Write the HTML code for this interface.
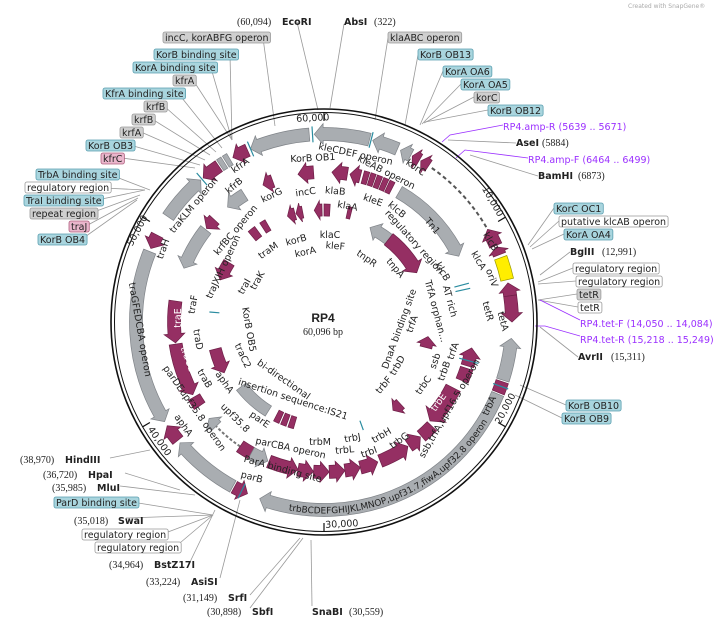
<!DOCTYPE html>
<html><head><meta charset="utf-8"><style>
html,body{margin:0;padding:0;background:#fff;width:717px;height:619px;overflow:hidden}
svg{display:block}
text{font-family:"DejaVu Sans","Liberation Sans",sans-serif;font-size:9.5px;fill:#222}
.b{font-weight:bold}
.p{fill:#9b30ff}
.s{font-family:"Liberation Serif",serif;font-size:10px}
.w{fill:#fff}
</style></head><body>
<svg id="m" width="717" height="619" viewBox="0 0 717 619" xmlns="http://www.w3.org/2000/svg">
<defs><path id="trbarc" d=""/></defs>
<g id="lines" stroke="#999" stroke-width="0.8" fill="none">
<path d="M297 22 L318 110"/><path d="M344 24 L330 108"/>
<path d="M263 38 L275 126"/><path d="M230 55 L232 140"/><path d="M211 68 L232 140"/>
<path d="M193 80 L232 140"/><path d="M178 93 L222 148"/><path d="M164 106 L216 152"/>
<path d="M152 119 L210 155"/><path d="M141 132 L205 160"/><path d="M130 145 L200 165"/>
<path d="M122 158 L195 168"/>
<path d="M111 175 L150 190"/><path d="M103 188 L145 190"/><path d="M97 200 L145 190"/>
<path d="M91 213 L140 195"/><path d="M86 226 L138 198"/><path d="M82 239 L137 200"/>
<path d="M388 38 L375 120"/><path d="M418 55 L405 125"/><path d="M443 71 L420 125"/>
<path d="M461 84 L422 124"/><path d="M474 97 L424 123"/><path d="M488 110 L425 122"/>
<path d="M516 143 L448 140"/><path d="M538 176 L470 155"/>
<path d="M554 208 L528 245"/><path d="M559 221 L530 247"/><path d="M564 234 L532 249"/>
<path d="M570 252 L540 275"/><path d="M573 268 L538 282"/><path d="M576 281 L538 284"/>
<path d="M577 294 L538 300"/><path d="M578 307 L538 300"/><path d="M578 357 L540 327"/>
<path d="M566 405 L520 385"/><path d="M562 418 L515 395"/>
<path d="M110 458 L150 450"/><path d="M125 473 L180 490"/><path d="M120 486 L195 495"/>
<path d="M132 502 L213 515"/><path d="M126 518 L213 515"/><path d="M160 535 L213 515"/>
<path d="M174 548 L213 515"/><path d="M190 562 L215 510"/><path d="M220 578 L240 500"/>
<path d="M250 595 L300 538"/><path d="M250 608 L303 538"/><path d="M312 606 L311 540"/>
</g>
<g stroke="#9b30ff" stroke-width="0.8" fill="none">
<path d="M503 125 L450 135 L442 142"/><path d="M528 158 L465 150 L456 158"/>
<path d="M580 320 L540 300"/><path d="M580 336 L545 326 L535 326"/>
</g>
<circle cx="324" cy="322" r="213" fill="none" stroke="#111" stroke-width="1.6"/>
<circle cx="324" cy="322" r="209.5" fill="none" stroke="#111" stroke-width="1"/>
<g id="feat"></g>
<text x="237" y="25" class="s">(60,094)</text><text x="282" y="25" class="b">EcoRI</text>
<text x="344" y="25" class="b">AbsI</text><text x="374" y="25" class="s">(322)</text>
<g id="boxes"></g>
<text x="503" y="130" class="p">RP4.amp-R  (5639 .. 5671)</text>
<text x="516" y="146" class="b">AseI</text><text x="542" y="146" class="s">(5884)</text>
<text x="528" y="163" class="p">RP4.amp-F  (6464 .. 6499)</text>
<text x="538" y="179" class="b">BamHI</text><text x="578" y="179" class="s">(6873)</text>
<text x="570" y="255" class="b">BglII</text><text x="602" y="255" class="s">(12,991)</text>
<text x="580" y="327" class="p">RP4.tet-F  (14,050 .. 14,084)</text>
<text x="580" y="343" class="p">RP4.tet-R  (15,218 .. 15,249)</text>
<text x="578" y="360" class="b">AvrII</text><text x="611" y="360" class="s">(15,311)</text>
<text x="20" y="463" class="s">(38,970)</text><text x="65" y="463" class="b">HindIII</text>
<text x="43" y="478" class="s">(36,720)</text><text x="88" y="478" class="b">HpaI</text>
<text x="52" y="491" class="s">(35,985)</text><text x="97" y="491" class="b">MluI</text>
<text x="74" y="524" class="s">(35,018)</text><text x="118" y="524" class="b">SwaI</text>
<text x="109" y="568" class="s">(34,964)</text><text x="154" y="568" class="b">BstZ17I</text>
<text x="146" y="585" class="s">(33,224)</text><text x="191" y="585" class="b">AsiSI</text>
<text x="183" y="601" class="s">(31,149)</text><text x="228" y="601" class="b">SrfI</text>
<text x="207" y="615" class="s">(30,898)</text><text x="252" y="615" class="b">SbfI</text>
<text x="312" y="615" class="b">SnaBI</text><text x="349" y="615" class="s">(30,559)</text>
<text x="628" y="8" style="font-size:6px;fill:#aaa">Created with SnapGene®</text>
<text x="323" y="322" text-anchor="middle" class="b" style="font-size:12px;font-family:'Liberation Sans',sans-serif">RP4</text>
<text x="323" y="335" text-anchor="middle" class="s">60,096 bp</text>
<text style="font-size:9px" text-anchor="middle"><textPath href="#trbarc" startOffset="50%">trbBCDEFGHIJKLMNOP,upf31.7,fiwA,upf32.8 operon</textPath></text>
<g text-anchor="middle" style="font-size:9px">
<text transform="translate(313,121) rotate(-3)">60,000</text>
<text transform="translate(490,203) rotate(60)">10,000</text>
<text transform="translate(508,410) rotate(-62)">20,000</text>
<text transform="translate(342,527) rotate(-3)">30,000</text>
<text transform="translate(157,443) rotate(55)">40,000</text>
<text transform="translate(140,232) rotate(-62)">50,000</text>
<text transform="translate(355,157) rotate(12)">kleCDEF operon</text>
<text transform="translate(385,175) rotate(27)">kleAB operon</text>
<text transform="translate(414,170) rotate(35)">korC</text>
<text transform="translate(313,161) rotate(-3)">KorB OB1</text>
<text transform="translate(306,195) rotate(-8)">incC</text>
<text transform="translate(335,194) rotate(5)">klaB</text>
<text transform="translate(347,209) rotate(10)">klaA</text>
<text transform="translate(372,203) rotate(20)">kleE</text>
<text transform="translate(395,212) rotate(40)">klcB</text>
<text transform="translate(412,244) rotate(48)">regulatory region</text>
<text transform="translate(430,228) rotate(50)">Tn1</text>
<text transform="translate(273,198) rotate(-25)">korG</text>
<text transform="translate(242,168) rotate(-35)">kfrA</text>
<text transform="translate(236,188) rotate(-40)">kfrB</text>
<text transform="translate(196,207) rotate(-50)">traKLM operon</text>
<text transform="translate(238,232) rotate(-50)">krfBC operon</text>
<text transform="translate(226,268) rotate(-65)">traJXIH operon</text>
<text transform="translate(297,243) rotate(-15)">korB</text>
<text transform="translate(306,255) rotate(-12)">korA</text>
<text transform="translate(330,238)">klaC</text>
<text transform="translate(335,249) rotate(5)">kleF</text>
<text transform="translate(270,253) rotate(-35)">traM</text>
<text transform="translate(247,288) rotate(-60)">traI</text>
<text transform="translate(260,282) rotate(-60)">traK</text>
<text transform="translate(365,261) rotate(35)">tnpR</text>
<text transform="translate(393,270) rotate(50)">tnpA</text>
<text transform="translate(166,250) rotate(-70)">traH</text>
<text transform="translate(137,330) rotate(80)">traGFEDCBA operon</text>
<text transform="translate(196,305) rotate(-80)">traF</text>
<text class="w" transform="translate(181,318) rotate(-90)">traE</text>
<text transform="translate(195,340) rotate(80)">traD</text>
<text class="w" transform="translate(185,360) rotate(70)">traC1</text>
<text transform="translate(202,380) rotate(60)">traB</text>
<text transform="translate(222,384) rotate(55)">aphA</text>
<text transform="translate(246,330) rotate(80)">KorB OB5</text>
<text transform="translate(240,357) rotate(65)">traC2</text>
<text transform="translate(282,382) rotate(35)">bi-directional</text>
<text transform="translate(292,402) rotate(18)">insertion sequence:IS21</text>
<text transform="translate(192,410) rotate(55)">parDEupf35.8 operon</text>
<text transform="translate(181,427) rotate(55)">aphA</text>
<text transform="translate(233,420) rotate(45)">upf35.8</text>
<text transform="translate(258,422) rotate(35)">parE</text>
<text transform="translate(290,451) rotate(12)">parCBA operon</text>
<text transform="translate(320,445)">trbM</text>
<text transform="translate(345,453) rotate(-5)">trbL</text>
<text transform="translate(353,441) rotate(-10)">trbJ</text>
<text transform="translate(370,455) rotate(-20)">trbI</text>
<text transform="translate(383,438) rotate(-30)">trbH</text>
<text transform="translate(401,443) rotate(-35)">trbG</text>
<text transform="translate(282,472) rotate(15)">ParA binding site</text>
<text transform="translate(251,480) rotate(15)">parB</text>
<text transform="translate(452,410) rotate(-60)">ssb,trfA,upf16.5 operon</text>
<text class="w" transform="translate(441,404) rotate(-55)">trbE</text>
<text transform="translate(386,387) rotate(-50)">trbF</text>
<text transform="translate(426,387) rotate(-55)">trbC</text>
<text transform="translate(400,367) rotate(-60)">trbD</text>
<text transform="translate(402,330) rotate(-70)">DnaA binding site</text>
<text transform="translate(415,325) rotate(-70)">trfA</text>
<text transform="translate(438,362) rotate(-70)">ssb</text>
<text transform="translate(447,372) rotate(-70)">trbB</text>
<text transform="translate(456,352) rotate(-70)">trfA</text>
<text transform="translate(492,407) rotate(-65)">trbA</text>
<text transform="translate(447,302) rotate(75)">AT rich</text>
<text transform="translate(433,312) rotate(75)">TrfA orphan...</text>
<text transform="translate(440,273) rotate(60)">klcB</text>
<text transform="translate(476,262) rotate(60)">klcA</text>
<text transform="translate(488,243) rotate(60)">klcB</text>
<text transform="translate(489,279) rotate(70)">oriV</text>
<text transform="translate(485,312) rotate(75)">tetR</text>
<text transform="translate(500,322) rotate(75)">tetA</text>
</g>
</svg>
<script>
(function(){
var NS="http://www.w3.org/2000/svg",cx=324,cy=322;
function pt(a,r){a=a*Math.PI/180;return [(cx+r*Math.sin(a)).toFixed(1),(cy-r*Math.cos(a)).toFixed(1)];}
function P(a,r){var p=pt(a,r);return p[0]+" "+p[1];}
document.getElementById("trbarc").setAttribute("d","M"+P(200,191.5)+" A191.5 191.5 0 0 0 "+P(112,191.5));
var G=document.getElementById("feat");
function add(tag,at,par){var e=document.createElementNS(NS,tag);for(var k in at)e.setAttribute(k,at[k]);(par||G).appendChild(e);return e;}
var MG="#952f63",MS="#6e1f47",GR="#a9adb1",GS="#7f8388";
function arr(a1,a2,r,w,dir,fill,stroke){
  var ro=r+w/2,ri=r-w/2,hw=w*0.8,hl=9/r*180/Math.PI;
  if(hl>(a2-a1)*0.7)hl=(a2-a1)*0.7;
  var d,lg;
  if(dir==1){var b=a2-hl;lg=(b-a1)>180?1:0;
    d="M"+P(a1,ro)+" A"+ro+" "+ro+" 0 "+lg+" 1 "+P(b,ro)+" L"+P(b,r+hw)+" L"+P(a2,r)+" L"+P(b,r-hw)+" L"+P(b,ri)+" A"+ri+" "+ri+" 0 "+lg+" 0 "+P(a1,ri)+"Z";}
  else if(dir==-1){var b=a1+hl;lg=(a2-b)>180?1:0;
    d="M"+P(a1,r)+" L"+P(b,r+hw)+" L"+P(b,ro)+" A"+ro+" "+ro+" 0 "+lg+" 1 "+P(a2,ro)+" L"+P(a2,ri)+" A"+ri+" "+ri+" 0 "+lg+" 0 "+P(b,ri)+" L"+P(b,r-hw)+"Z";}
  else{lg=(a2-a1)>180?1:0;
    d="M"+P(a1,ro)+" A"+ro+" "+ro+" 0 "+lg+" 1 "+P(a2,ro)+" L"+P(a2,ri)+" A"+ri+" "+ri+" 0 "+lg+" 0 "+P(a1,ri)+"Z";}
  add("path",{d:d,fill:fill,stroke:stroke,"stroke-width":0.7});
}
function g(a1,a2,r,w,d){arr(a1,a2,r,w,d,GR,GS);}
function m(a1,a2,r,w,d){arr(a1,a2,r,w,d,MG,MS);}
function tick(a,r1,r2,c){var p=pt(a,r1),q=pt(a,r2);add("line",{x1:p[0],y1:p[1],x2:q[0],y2:q[1],stroke:c||"#2a8ca0","stroke-width":1.2});}
var R1=188,W1=13;
g(-3,14,R1,W1,-1);g(15,23,R1,W1,-1);g(24,27.5,R1,W1,-1);
m(28,30.5,R1,W1,-1);m(31,33.8,R1,W1,-1);
add("path",{d:"M"+P(35,R1)+" A"+R1+" "+R1+" 0 0 1 "+P(60,R1),fill:"none",stroke:"#555","stroke-width":2,"stroke-dasharray":"4 3"});
m(60.5,66,R1,W1,-1);m(66.5,69,R1,W1,-1);
arr(70,77,R1,W1,0,"#ffee00","#999900");
m(78,82,R1,W1,-1);m(82,90,R1,W1,1);
g(95,108,R1,W1,-1);m(108.5,112,R1,W1,0);
g(112.5,200,R1,W1,1);
m(204,208.5,R1,W1,-1);g(209,230,R1,W1,1);m(231,236.5,R1,W1,1);
g(238,292,R1,W1,-1);m(293,297.5,R1,W1,-1);
g(304,319,R1,W1,1);m(320,326,R1,W1,-1);
g(326.5,328,R1,W1,0);g(328.5,330,R1,W1,0);
m(331,336,R1,W1,-1);g(337,355.5,R1,W1,-1);
tick(-3.5,R1-8,R1+8);tick(14.5,R1-8,R1+8);tick(110,R1-8,R1+8);tick(206,R1-8,R1+8);tick(319.5,R1-8,R1+8);tick(337,R1-8,R1+8);
[0,60,120,180,240,300].forEach(function(a){tick(a,201,209.5,"#111");});
var R2=150,W2=13;
g(30,64,R2,W2,1);
m(3,9,R2,W2,-1);m(10,14,R2,W2,-1);
[15,17.5,20,22.5,25].forEach(function(a){m(a,a+2,R2,W2,0);});
m(-10,-4,R2,W2,-1);m(-24,-20,R2,W2,-1);
g(-40,-32,R2,W2,-1);g(-69,-52,R2,W2,-1);m(-51.5,-47,R2,W2,-1);
m(262,278,R2,W2,-1);m(241,261.5,R2,W2,-1);m(236,240,R2,W2,0);
add("path",{d:"M"+P(214,R2)+" A"+R2+" "+R2+" 0 0 1 "+P(226,R2),fill:"none",stroke:"#777","stroke-width":2,"stroke-dasharray":"3 2"});
g(226,230,R2,W2,1);m(209,214,R2,W2,0);
g(202,209,R2,W2,-1);
m(190,201.5,R2,W2,-1);m(184,190,R2,W2,-1);m(178,184,R2,W2,-1);m(172,178,R2,W2,-1);m(166,172,R2,W2,-1);m(159,166,R2,W2,-1);
m(146,158,R2,W2,-1);m(140,145.5,R2,W2,-1);m(134,139.5,R2,W2,0);
m(117,133,145,16,1);
m(100,107,R2,W2,-1);m(108,113,R2,W2,0);
tick(105,140,160);tick(75,135,150);tick(77,135,150);
var R3=112,W3=12;
m(-19,-15,R3,W3,-1);m(-14.5,-11,R3,W3,-1);m(-5,-1,R3,W3,-1);m(0,3,R3,W3,0);m(12,14,R3,W3,0);
m(-68,-58,R3,W3,-1);m(-40,-36,R3,W3,0);m(-33,-30,R3,W3,0);
m(243,256,R3,W3,-1);
g(26,38,105,12,-1);m(38,62,105,14,1);
g(212,232,105,12,0);m(200,203,105,12,0);m(204,207,105,12,0);m(196,199,105,12,0);
m(137,142,R3,W3,1);m(98,104,105,W3,-1);
tick(160,105,115);tick(275,105,115);
})();
(function(){
var NS="http://www.w3.org/2000/svg",B=document.getElementById("boxes");
var C={b:["#a9d5de","#5a9fb0"],g:["#cfcfcf","#9a9a9a"],p:["#eab6cc","#b0607f"],w:["#ffffff","#999"]};
var L=[["incC, korABFG operon",163,32,"g"],["KorB binding site",154,49,"b"],["KorA binding site",133,62,"b"],["kfrA",173,75,"g"],["KfrA binding site",103,88,"b"],["krfB",144,101,"g"],["krfB",132,114,"g"],["krfA",120,127,"g"],["KorB OB3",86,140,"b"],["kfrC",101,153,"p"],["TrbA binding site",36,169,"b"],["regulatory region",25,182,"w"],["TraI binding site",24,195,"b"],["repeat region",30,208,"g"],["traJ",69,221,"p"],["KorB OB4",38,234,"b"],
["klaABC operon",388,32,"g"],["KorB OB13",418,49,"b"],["KorA OA6",443,66,"b"],["KorA OA5",461,79,"b"],["korC",474,92,"g"],["KorB OB12",488,105,"b"],["KorC OC1",554,203,"b"],["putative klcAB operon",559,216,"w"],["KorA OA4",564,229,"b"],
["regulatory region",573,263,"w"],["regulatory region",576,276,"w"],["tetR",577,289,"g"],["tetR",578,302,"w"],["KorB OB10",566,400,"b"],["KorB OB9",562,413,"b"],
["ParD binding site",54,497,"b"],["regulatory region",82,529,"w"],["regulatory region",95,542,"w"]];
L.forEach(function(l){
 var t=document.createElementNS(NS,"text");t.setAttribute("x",l[1]+2);t.setAttribute("y",l[2]+9);t.textContent=l[0];
 var r=document.createElementNS(NS,"rect");B.appendChild(r);B.appendChild(t);
 var w=t.getComputedTextLength();
 r.setAttribute("x",l[1]);r.setAttribute("y",l[2]);r.setAttribute("width",w+4);r.setAttribute("height",11);r.setAttribute("rx",2);
 r.setAttribute("fill",C[l[3]][0]);r.setAttribute("stroke",C[l[3]][1]);r.setAttribute("stroke-width",0.8);
});
})();
</script>
</body></html>
